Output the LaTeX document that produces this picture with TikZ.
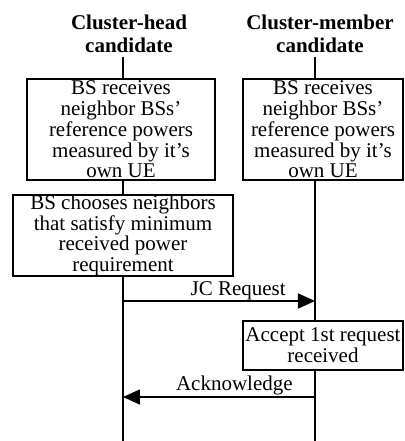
\documentclass[tikz,border=0pt]{standalone}
\usepackage{fontspec}
\setmainfont{Liberation Serif}
\usetikzlibrary{arrows.meta}

\begin{document}
\begin{tikzpicture}[x=0.5pt,y=-0.5pt,
font=\fontsize{10.5}{10.4}\selectfont,
head/.style={align=center,inner sep=0pt,font=\fontsize{10.5}{11.5}\selectfont\bfseries},
box/.style={draw,line width=0.75pt,fill=white,align=center,inner sep=0pt},
life/.style={line width=0.6pt},
msg/.style={line width=0.8pt,-{Triangle[length=8.5pt,width=7.5pt]}}]

\useasboundingbox (0,0) rectangle (404,441);

% the two parties
\node (HeadL) [head] at (129,34) {Cluster-head\\candidate};
\node (HeadR) [head] at (320,34) {Cluster-member\\candidate};

\coordinate (TopL) at (123,57);
\coordinate (BotL) at (123,441);
\coordinate (TopR) at (315,57);
\coordinate (BotR) at (315,441);
\draw[life] (TopL) -- (BotL);
\draw[life] (TopR) -- (BotR);

\node (RecvL) [box,minimum width=94pt,minimum height=50.5pt] at (121,129.5)
  {BS receives\\neighbor BSs'\\reference powers\\measured by it's\\own UE};
\node (RecvR) [box,minimum width=80pt,minimum height=50.5pt] at (323,129.5)
  {BS receives\\neighbor BSs'\\reference powers\\measured by it's\\own UE};
\node (Choose) [box,minimum width=110pt,minimum height=40.5pt] at (123,235.5)
  {BS chooses neighbors\\that satisfy minimum\\received power\\requirement};
\node (Accept) [box,minimum width=80pt,minimum height=24.5pt] at (323,345.5)
  {Accept 1st request\\received};

% messages
\coordinate (ReqL) at (123,301);
\coordinate (ReqR) at (315,301);
\coordinate (AckL) at (123,397);
\coordinate (AckR) at (315,397);
\draw[msg] (ReqL) -- node[above,pos=0.6,inner sep=0.3pt] {JC Request} (ReqR);
\draw[msg] (AckR) -- node[above,pos=0.42,inner sep=0.6pt] {Acknowledge} (AckL);
\end{tikzpicture}
\end{document}
